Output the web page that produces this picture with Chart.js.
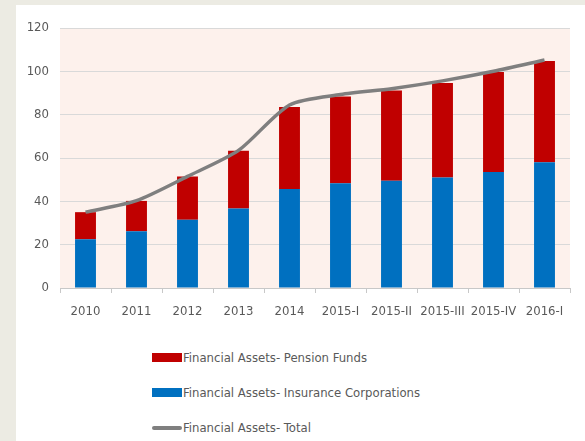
<!DOCTYPE html>
<html>
<head>
<meta charset="utf-8">
<script src="https://cdn.jsdelivr.net/npm/chart.js@4"></script>
<style>
  html, body { margin: 0; padding: 0; }
  body { width: 585px; height: 441px; background: #ecebe3; position: relative; overflow: hidden;
         font-family: "Liberation Sans Narrow", "DejaVu Sans Condensed", sans-serif; }
  #panel { position: absolute; left: 16px; top: 5px; width: 569px; height: 436px; background: #fff; }
  #wrap { position: absolute; left: 0; top: 0; width: 569px; height: 322px; }
  #legend { position: absolute; left: 136px; top: 335px; list-style: none; margin: 0; padding: 0; }
  #legend li { height: 35px; display: flex; align-items: center; font-size: 13px; color: #595959; }
  #legend .sw { display: inline-block; width: 30px; margin-right: 1px; }
</style>
</head>
<body>
<div id="panel">
  <div id="wrap"><canvas id="c"></canvas></div>
  <ul id="legend"></ul>
</div>
<script>
// --- データ ---
const categories = ['2010', '2011', '2012', '2013', '2014', '2015-I', '2015-II', '2015-III', '2015-IV', '2016-I'];
const insurance  = [22.5, 26.2, 31.5, 36.7, 45.7, 48.4, 49.5, 51.0, 53.5, 58.0];
const pension    = [12.5, 14.0, 20.0, 26.7, 37.8, 40.0, 41.7, 43.6, 46.2, 46.8];
const total      = [35.0, 40.3, 51.5, 63.5, 84.5, 89.3, 92.0, 95.6, 100.0, 105.2];
const yTicks     = [0, 20, 40, 60, 80, 100, 120];

const FONT = '"Liberation Sans Narrow", "DejaVu Sans Condensed", sans-serif';

// プロット領域の背景
const plotBg = {
  id: 'plotBg',
  beforeDraw(chart) {
    const a = chart.chartArea;
    const ctx = chart.ctx;
    ctx.save();
    ctx.fillStyle = '#fdf1ec';
    ctx.fillRect(a.left, a.top, a.right - a.left, a.bottom - a.top);
    ctx.restore();
  }
};

const ctx = document.getElementById('c').getContext('2d');
const chart = new Chart(ctx, {
  type: 'bar',
  data: {
    labels: categories,
    datasets: [
      {
        label: 'Financial Assets- Insurance Corporations',
        data: insurance,
        backgroundColor: '#0070c0',
        stack: 'fa',
        order: 2,
        barPercentage: 0.41,
        categoryPercentage: 1
      },
      {
        label: 'Financial Assets- Pension Funds',
        data: pension,
        backgroundColor: '#c00000',
        stack: 'fa',
        order: 2,
        barPercentage: 0.41,
        categoryPercentage: 1
      },
      {
        type: 'line',
        label: 'Financial Assets- Total',
        data: total,
        borderColor: '#7f7f7f',
        backgroundColor: '#7f7f7f',
        borderWidth: 3.5,
        pointRadius: 0,
        tension: 0.25,
        stack: 'total',
        order: 0
      }
    ]
  },
  options: {
    responsive: true,
    maintainAspectRatio: false,
    animation: false,
    layout: { padding: { top: 23, right: 15, left: 0, bottom: 0 } },
    plugins: {
      legend: { display: false },
      tooltip: { enabled: false }
    },
    scales: {
      x: {
        stacked: true,
        offset: true,
        grid: { display: true, drawOnChartArea: false, offset: true, color: '#c8c8c8', tickLength: 5 },
        border: { color: '#c8c8c8' },
        ticks: { color: '#595959', font: { family: FONT, size: 13 }, padding: 11, maxRotation: 0, autoSkip: false },
        afterFit(scale) { scale.height = 39; }
      },
      y: {
        stacked: true,
        min: 0,
        max: 120,
        afterBuildTicks(scale) { scale.ticks = yTicks.map(v => ({ value: v })); },
        grid: { color: '#d9d9d9', drawTicks: false },
        border: { display: false },
        ticks: { color: '#595959', font: { family: FONT, size: 13 }, padding: 11 },
        afterFit(scale) { scale.width = 44; }
      }
    }
  },
  plugins: [plotBg]
});

// 凡例（縦並び）
const legendOrder = [1, 0, 2];
const ul = document.getElementById('legend');
legendOrder.forEach(i => {
  const ds = chart.data.datasets[i];
  const li = document.createElement('li');
  const sw = document.createElement('span');
  sw.className = 'sw';
  sw.style.background = ds.type === 'line' ? ds.borderColor : ds.backgroundColor;
  sw.style.height = ds.type === 'line' ? '4px' : '9px';
  if (ds.type === 'line') sw.style.borderRadius = '2px';
  li.appendChild(sw);
  li.appendChild(document.createTextNode(ds.label));
  ul.appendChild(li);
});
</script>
</body>
</html>
